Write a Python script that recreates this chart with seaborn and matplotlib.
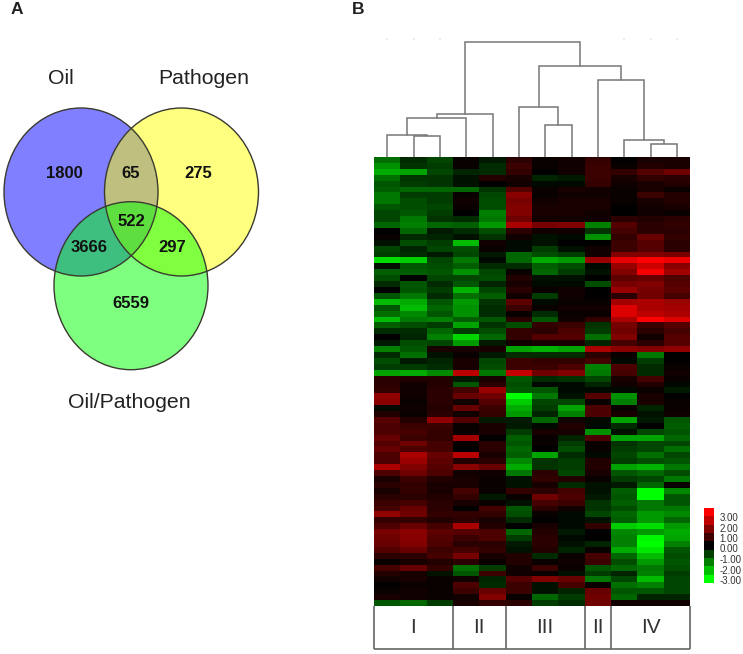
import numpy as np
import seaborn as sn
import pandas as pd
import matplotlib
matplotlib.use("Agg")
import matplotlib.pyplot as plt
from matplotlib.colors import LinearSegmentedColormap
from matplotlib.patches import Ellipse

# venn
set_names = ['Oil', 'Pathogen', 'Oil/Pathogen']
set_colors = ['#0000ff', '#ffff00', '#00ff00']
region_counts = [1800, 65, 275, 522, 3666, 297, 6559]

# heatmap, one row per gene, 12 samples
expr_rows = [
    [-1.3,-0.5,-0.8,0.1,-0.3,0.5,0.1,0.2,0.6,0.0,0.3,0.3],
    [-1.7,-0.6,-0.7,0.1,-0.5,0.7,0.1,0.2,0.7,0.1,0.4,0.3],
    [-2.0,-1.9,-0.8,-0.4,-0.5,0.6,0.0,0.2,0.7,0.6,1.0,1.3],
    [-1.3,-0.6,-0.6,-0.2,0.4,0.3,-0.4,-0.3,0.7,0.3,0.6,0.5],
    [-1.0,-0.7,-0.6,-0.2,0.0,0.2,-0.1,-0.1,0.6,0.2,0.3,0.4],
    [-1.1,-1.2,-1.2,-1.2,-0.6,1.0,0.1,0.3,0.2,0.1,0.3,0.1],
    [-1.4,-0.7,-0.7,0.1,-0.8,1.6,0.1,0.2,0.2,0.1,0.7,0.4],
    [-1.4,-0.9,-0.7,0.2,-0.9,1.4,0.2,0.3,0.3,0.1,0.3,0.4],
    [-1.0,-0.9,-0.8,0.1,-0.9,1.5,0.3,0.3,0.3,0.0,0.2,0.3],
    [-0.8,-1.0,-0.7,0.0,-1.5,1.5,0.3,0.3,0.2,0.0,0.2,0.1],
    [-0.8,-1.4,-0.6,-0.5,-1.4,1.3,0.2,0.2,0.2,0.5,0.4,0.5],
    [-1.2,-1.5,-1.2,-1.1,-1.8,2.0,1.4,1.5,-1.5,1.0,0.5,0.6],
    [0.0,-1.2,-0.3,-0.5,-0.9,0.5,0.2,0.2,-0.6,0.8,0.5,0.5],
    [0.1,-0.5,-0.4,-0.2,-0.6,0.2,-0.2,-0.1,-1.7,0.6,1.2,0.6],
    [-0.2,-0.9,-0.7,-2.2,0.2,-0.1,-0.2,0.0,0.0,0.7,1.0,0.5],
    [-0.8,-0.4,-0.8,-0.9,0.1,-0.1,-0.7,-0.2,0.2,0.7,1.0,0.5],
    [-0.7,-0.5,-0.3,-0.8,-0.3,-1.2,-0.9,-0.7,0.2,1.5,1.5,1.4],
    [-2.6,-2.4,-0.8,-1.4,-0.1,-1.2,-2.0,-1.8,1.8,2.7,3.0,2.8],
    [-0.2,-1.0,-0.9,-1.1,-0.5,-0.5,-1.1,-0.9,-0.1,1.8,2.4,1.6],
    [-1.1,-1.1,-1.0,-1.7,-0.8,0.1,-1.2,-0.7,-0.2,1.5,2.9,1.9],
    [-0.9,0.0,-0.8,-0.8,-0.9,0.4,-0.2,-0.2,0.0,1.1,1.2,0.9],
    [-0.5,-1.0,-0.5,-1.0,-0.4,0.3,-0.1,-0.1,-0.9,1.4,1.5,1.0],
    [0.0,-1.0,-0.7,-2.1,-0.8,0.5,0.1,0.2,0.0,1.8,1.4,1.1],
    [-1.0,-1.4,-0.5,-1.3,-1.1,0.2,-0.7,0.2,0.0,0.5,1.3,0.8],
    [-2.2,-2.0,-1.0,-1.8,-0.6,1.1,-0.1,0.1,0.1,1.9,2.0,1.8],
    [-1.0,-2.2,-1.2,-1.7,-0.5,0.7,0.1,0.2,0.2,2.6,2.0,1.9],
    [-1.3,-1.6,-1.0,-1.7,-0.5,0.1,-0.5,0.1,0.1,2.6,2.2,2.0],
    [-2.2,-1.4,-1.5,-1.1,-1.0,0.5,-1.0,0.2,0.6,2.0,3.0,2.6],
    [-1.1,-0.9,-0.7,-1.9,-0.6,-0.9,0.6,0.7,-0.6,1.4,0.7,1.0],
    [-0.5,-0.5,-1.2,-0.7,-0.9,0.6,0.5,0.9,-0.7,1.3,0.5,0.8],
    [0.0,-0.4,-1.5,-2.5,-1.2,0.6,1.0,1.0,-1.3,1.5,0.2,1.0],
    [-0.3,-0.9,-0.8,-1.8,-0.3,0.2,0.3,0.3,-0.4,0.8,0.5,1.0],
    [-1.5,-1.0,0.3,0.3,0.3,-1.9,-2.1,-1.9,2.0,1.6,1.5,1.7],
    [-0.5,-1.3,-0.2,0.1,-0.3,-0.5,-0.5,-0.5,0.5,0.1,-1.4,0.0],
    [-0.9,-0.3,-0.4,0.3,-0.8,0.7,0.6,0.6,0.8,-0.1,-0.7,0.0],
    [-0.7,-0.7,-0.5,0.3,-0.9,0.7,0.7,0.9,-1.5,0.9,-0.5,0.1],
    [-1.9,-2.0,-1.6,2.2,-1.4,2.3,1.3,1.5,-1.4,0.8,-0.5,0.2],
    [0.5,0.4,0.4,-0.3,0.3,-1.0,-0.5,-0.6,-0.8,0.3,0.8,0.1],
    [0.5,0.2,0.4,-1.0,0.5,-0.9,-0.1,-0.1,-0.4,0.2,0.4,-0.1],
    [0.6,0.2,0.5,0.8,1.8,-1.0,-1.0,-0.1,-0.1,-0.1,0.1,-0.3],
    [1.7,0.2,0.5,1.2,1.3,-3.0,-1.4,-0.2,1.0,-1.7,0.3,0.0],
    [1.6,0.1,0.5,0.2,1.0,-2.4,-0.8,-0.8,0.1,-1.5,0.3,0.1],
    [-0.1,0.2,0.4,1.2,0.7,-2.0,-0.7,-1.9,0.9,0.1,-0.4,0.1],
    [0.4,0.1,0.5,0.2,0.6,-1.8,-0.4,-1.5,0.9,0.3,-0.2,0.2],
    [1.0,0.4,1.7,1.0,-0.3,-0.3,-1.2,0.2,-0.1,-1.9,-0.3,-1.0],
    [0.9,0.7,0.7,0.1,0.3,-0.3,-0.1,0.4,-0.1,-0.5,0.0,-1.1],
    [0.9,0.8,0.6,0.1,0.3,-0.7,0.3,0.3,-1.7,-0.2,-0.8,-1.0],
    [1.2,0.7,0.6,1.9,0.0,-1.1,0.1,-0.4,0.9,-1.9,-1.9,-1.2],
    [1.0,1.3,0.8,0.1,0.5,-1.0,0.1,-0.7,0.1,-0.6,-0.8,-0.8],
    [1.2,0.9,0.8,0.0,0.5,-1.2,0.0,-0.9,0.1,-0.7,-0.8,-1.3],
    [0.9,2.0,1.2,2.2,0.3,-1.1,-1.9,-0.5,-0.1,-0.8,-1.3,-0.8],
    [0.9,1.8,1.1,0.4,0.5,-1.6,-0.6,-0.7,0.4,-0.7,-0.9,-1.0],
    [2.0,1.5,1.0,1.6,1.2,-2.0,-0.6,-0.7,0.4,-1.9,-2.1,-1.4],
    [0.9,1.3,0.9,0.2,0.2,-1.4,0.5,-0.8,0.3,-1.0,-1.2,-0.9],
    [0.3,0.7,0.4,0.3,0.1,-0.2,0.6,0.4,0.1,-0.7,-0.8,-1.4],
    [0.5,0.6,0.3,0.3,0.1,-0.2,0.3,-0.5,-0.2,-0.3,-1.2,0.1],
    [0.3,0.6,0.3,0.8,0.1,0.6,0.5,0.8,-0.2,-1.1,-3.0,-1.6],
    [0.5,0.5,0.4,0.6,-0.3,0.1,1.3,0.9,-0.3,-1.0,-3.0,-1.0],
    [0.7,0.8,0.5,0.3,0.1,-0.2,0.8,0.7,-0.6,-1.1,-1.4,-1.0],
    [0.8,1.2,0.5,0.0,0.8,-1.0,0.5,0.2,-0.6,-0.9,-1.4,-1.4],
    [1.7,1.3,0.6,0.6,0.6,-0.9,0.1,-0.1,-0.8,-1.2,-1.8,-1.6],
    [0.6,0.6,0.4,0.5,0.3,-0.5,0.0,-0.1,-0.2,-1.1,-1.8,-1.2],
    [0.9,1.2,0.8,2.0,0.4,0.0,0.3,-0.1,0.6,-2.4,-2.6,-1.8],
    [1.4,1.6,1.1,1.0,0.9,-1.2,0.4,-0.3,0.0,-1.6,-1.8,-2.0],
    [1.3,1.6,1.0,0.7,0.9,-0.7,0.5,-0.1,0.0,-1.5,-2.9,-1.9],
    [1.2,1.5,0.9,0.5,0.5,-0.3,0.5,-0.2,-0.4,-1.5,-3.0,-1.5],
    [1.0,1.2,0.7,0.8,0.6,-0.2,0.4,-0.4,0.1,-2.0,-2.7,-1.0],
    [0.5,0.5,0.8,1.4,0.3,0.4,-0.5,0.1,0.8,-1.2,-2.2,-0.9],
    [0.1,0.3,0.4,0.5,0.1,0.4,0.1,0.2,0.7,-0.9,-1.8,-1.0],
    [0.8,1.2,0.6,-1.3,-0.7,0.2,0.7,0.1,-1.0,-1.2,-1.4,-0.9],
    [0.4,0.3,-0.2,-1.0,0.7,0.2,0.1,-0.2,-0.7,-0.4,-1.5,-0.7],
    [0.2,0.3,0.1,0.2,-0.4,1.0,1.5,1.2,-1.4,-0.8,-2.2,-0.8],
    [0.0,0.1,0.1,0.9,-0.5,0.7,-0.2,0.8,0.1,-1.3,-1.5,-0.8],
    [0.1,0.2,0.1,0.7,1.2,0.7,-0.2,-0.4,1.2,-1.0,-1.0,-0.8],
    [0.3,0.2,0.1,0.2,1.5,0.1,-1.2,-0.7,1.3,-1.2,-0.4,-0.4],
    [-1.0,-1.2,-0.7,0.3,0.6,0.5,-0.7,-0.5,1.3,0.2,0.2,0.2],
]

# dendrogram merges: left node, right node, height. new nodes are numbered from 12
dend_merges = [
    [1, 2, 21],
    [0, 12, 22],
    [13, 3, 39],
    [14, 4, 43],
    [6, 7, 31.6],
    [5, 16, 49.7],
    [10, 11, 12.7],
    [9, 18, 16.7],
    [8, 19, 77],
    [17, 20, 91.3],
    [15, 21, 115],
]

group_names = ['I', 'II', 'III', 'II', 'IV']
group_sizes = [3, 2, 3, 1, 3]

legend_levels = [3.0, 2.25, 1.5, 0.75, 0.0, -0.75, -1.5, -2.25, -3.0]
legend_labels = ['3.00', '2.00', '1.00', '0.00', '-1.00', '-2.00', '-3.00']

W, H = 743, 654

def px_axes(fig, left, top, right, bottom):
    return fig.add_axes([left / W, 1 - bottom / H, (right - left) / W, (bottom - top) / H])

sn.set_theme(style='white')
plt.rcParams['font.family'] = ['Liberation Sans', 'DejaVu Sans']

fig = plt.figure(figsize=(W / 100, H / 100), dpi=100)
cmap = LinearSegmentedColormap.from_list('', ['#00ff00', 'black', '#ff0000'])

# panel A
ax_v = px_axes(fig, 0, 0, 270, 420)
ax_v.set_xlim(0, 270)
ax_v.set_ylim(420, 0)
ax_v.axis('off')
centers = [(81, 192), (181.5, 192), (131, 285.7)]
for c, col in zip(centers, set_colors):
    ax_v.add_patch(Ellipse(c, 154, 168, facecolor=col, alpha=0.5, edgecolor='none'))
for c in centers:
    ax_v.add_patch(Ellipse(c, 154, 168, fill=False, edgecolor='#3a3a30', linewidth=1.0))
name_pos = [(61, 79), (204, 79), (129, 402)]
for s, p in zip(set_names, name_pos):
    ax_v.text(p[0], p[1], s, fontsize=15.3, color='#222222', ha='center', va='center')
count_pos = [(64, 173), (131, 173), (198, 173), (131, 222), (89, 247), (172, 247), (131, 303)]
for n, p in zip(region_counts, count_pos):
    ax_v.text(p[0], p[1], str(n), fontsize=12, fontweight='bold', color='#111111', ha='center', va='center')

fig.text(17 / W, 1 - 10 / H, 'A', fontsize=12.5, fontweight='bold', ha='center', va='center', color='#222222')
fig.text(358 / W, 1 - 9 / H, 'B', fontsize=12.5, fontweight='bold', ha='center', va='center', color='#222222')

# panel B heatmap
df = pd.DataFrame(expr_rows)
ax_h = px_axes(fig, 374, 157, 690, 606)
sn.heatmap(df, ax=ax_h, cmap=cmap, vmin=-3, vmax=3, cbar=False, xticklabels=False, yticklabels=False)

# dendrogram
ax_d = px_axes(fig, 374, 30, 690, 157)
ax_d.set_xlim(0, 12)
ax_d.set_ylim(0, 127)
ax_d.axis('off')
nodes = {i: (i + 0.5, 0) for i in range(12)}
for k, (a, b, h) in enumerate(dend_merges):
    xa, ya = nodes[a]
    xb, yb = nodes[b]
    ax_d.plot([xa, xa, xb, xb], [ya, h, h, yb], color='#777777', linewidth=1.1, solid_joinstyle='miter')
    nodes[12 + k] = ((xa + xb) / 2, h)
faint = [0, 1, 2, 9, 10, 11]
ax_d.scatter([nodes[i][0] for i in faint], [118] * 6, s=2, marker='s', color='#ececec', linewidths=0)

# group box under heatmap
ax_g = px_axes(fig, 374, 606, 690, 649)
ax_g.set_xlim(0, 12)
ax_g.set_ylim(1, 0)
ax_g.axis('off')
edges = np.cumsum([0] + group_sizes)
ax_g.vlines(edges, 0, 1, color='#666666', linewidth=1.2, clip_on=False)
ax_g.hlines(1, 0, 12, color='#666666', linewidth=1.2, clip_on=False)
for i, g in enumerate(group_names):
    ax_g.text((edges[i] + edges[i + 1]) / 2, 0.5, g, fontsize=15, color='#333333', ha='center', va='center')

# colour legend
ax_l = px_axes(fig, 704, 508, 714, 583)
leg = pd.DataFrame({'v': legend_levels})
sn.heatmap(leg, ax=ax_l, cmap=cmap, vmin=-3, vmax=3, cbar=False, xticklabels=False, yticklabels=False)
ax_l.yaxis.tick_right()
ax_l.set_yticks(np.arange(len(legend_labels)) * 10.5 / (75 / 9) + 9 / (75 / 9))
ax_l.set_yticklabels(legend_labels, rotation=0, fontsize=7, color='#333333')
ax_l.tick_params(axis='y', length=0, pad=4)

plt.savefig('out.png', dpi=100)
